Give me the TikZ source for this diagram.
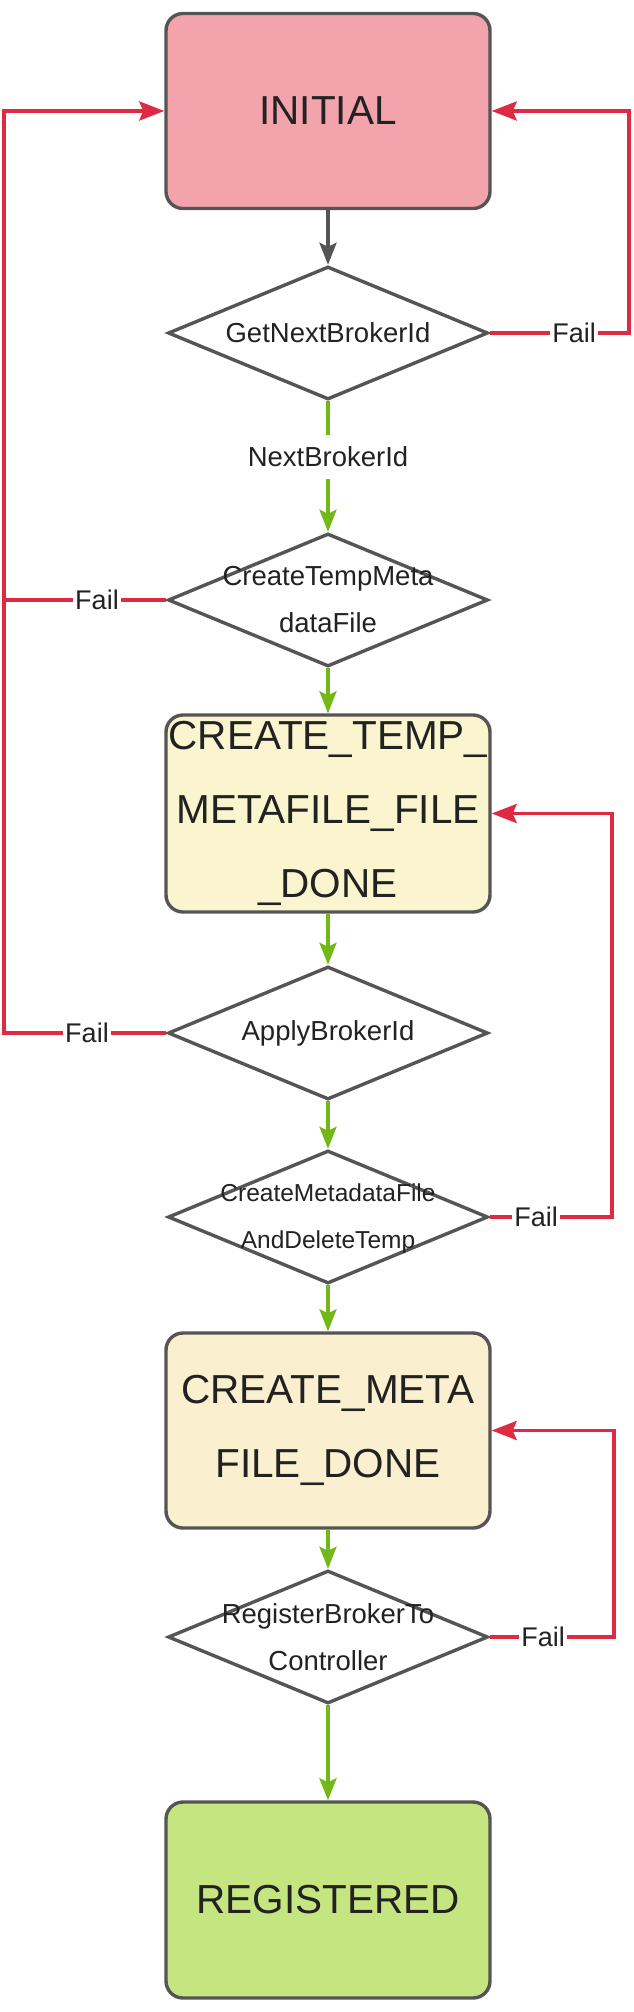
\documentclass[tikz,border=0pt]{standalone}
\usepackage{fontspec}
\setmainfont{Liberation Sans}
\usetikzlibrary{shapes.geometric,arrows.meta}
\definecolor{bordergray}{HTML}{555555}
\definecolor{txtc}{HTML}{222222}
\definecolor{failred}{HTML}{DE2A42}
\definecolor{okgreen}{HTML}{72B816}
\definecolor{pinkfill}{HTML}{F2A3AB}
\definecolor{yellowfill}{HTML}{FBF5CF}
\definecolor{creamfill}{HTML}{FAEFCF}
\definecolor{greenfill}{HTML}{C4E57F}
\begin{document}
\begin{tikzpicture}[x=1pt,y=-1pt,
  statebox/.style={draw=bordergray, line width=3.4pt, rounded corners=17pt,
    minimum width=324pt, minimum height=195pt, inner sep=0pt},
  decision/.style={draw=bordergray, line width=3.4pt, diamond, fill=white,
    minimum width=320pt, minimum height=133pt, inner sep=0pt},
  bigtext/.style={font=\fontsize{40.5}{74}\selectfont, align=center, text=txtc, inner sep=0pt},
  midtext/.style={font=\fontsize{27.5}{47}\selectfont, align=center, text=txtc, inner sep=0pt},
  smalltext/.style={font=\fontsize{24.5}{47}\selectfont, align=center, text=txtc, inner sep=0pt},
  grayflow/.style={line width=3.4pt, draw=bordergray, -{Stealth[length=22pt,width=17pt,inset=4pt]}},
  greenflow/.style={line width=3.4pt, draw=okgreen, -{Stealth[length=22pt,width=17pt,inset=4pt]}},
  failflow/.style={line width=3.6pt, draw=failred, -{Stealth[length=25pt,width=19pt,inset=4pt]}},
  failline/.style={line width=3.6pt, draw=failred},
  faillabel/.style={font=\fontsize{27}{30}\selectfont, fill=white, inner sep=2pt, text=txtc},
  flowlabel/.style={font=\fontsize{27.5}{30}\selectfont, fill=white, inner xsep=2pt, inner ysep=12pt, text=txtc}
]
\useasboundingbox (0,0) rectangle (634,2012);

% state boxes
\node[statebox, fill=pinkfill] (init) at (328,111) {};
\node[statebox, fill=yellowfill, minimum height=197pt] (b2) at (328,813.5) {};
\node[statebox, fill=creamfill] (b3) at (328,1430.5) {};
\node[statebox, fill=greenfill, minimum height=196pt] (b4) at (328,1900) {};

% decisions
\node[decision] (d1) at (328,333) {};
\node[decision] (d2) at (328,600) {};
\node[decision] (d3) at (328,1033) {};
\node[decision] (d4) at (328,1217) {};
\node[decision] (d5) at (328,1637) {};

% helper coordinates for loop-back lines
\coordinate (L) at (4,0);
\coordinate (R1) at (629,0);
\coordinate (R2) at (612,0);
\coordinate (R3) at (614,0);

% main flow
\draw[grayflow] (init) -- (d1);
\draw[greenflow] (d1) -- (d2);
\draw[greenflow] (d2) -- (b2);
\draw[greenflow] (b2) -- (d3);
\draw[greenflow] (d3) -- (d4);
\draw[greenflow] (d4) -- (b3);
\draw[greenflow] (b3) -- (d5);
\draw[greenflow] (d5) -- (b4);

% fail paths
\draw[failflow] (d1.east) -- (d1.east -| R1) |- (init.east);
\draw[failline] (d2.west) -- (d2.west -| L);
\draw[failflow] (d3.west) -- (d3.west -| L) |- (init.west);
\draw[failflow] (d4.east) -- (d4.east -| R2) |- (b2.east);
\draw[failflow] (d5.east) -- (d5.east -| R3) |- (b3.east);

% texts
\node[bigtext] (tinit) at (init.center) {INITIAL};
\node[bigtext] (tb2) at (b2.center) {CREATE\_TEMP\_\\METAFILE\_FILE\\\_DONE};
\node[bigtext] (tb3) at (b3.center) {CREATE\_META\\FILE\_DONE};
\node[bigtext] (tb4) at (b4.center) {REGISTERED};

\node[midtext] (td1) at (d1.center) {GetNextBrokerId};
\node[midtext] (td2) at (d2.center) {CreateTempMeta\\dataFile};
\node[midtext] (td3) at (d3.center) {ApplyBrokerId};
\node[smalltext] (td4) at (328,1219) {CreateMetadataFile\\AndDeleteTemp};
\node[midtext] (td5) at (d5.center) {RegisterBrokerTo\\Controller};

% labels
\node[flowlabel] (lnext) at (328,457) {NextBrokerId};
\node[faillabel] (f1) at (574,333) {Fail};
\node[faillabel] (f2) at (97,600) {Fail};
\node[faillabel] (f3) at (87,1033) {Fail};
\node[faillabel] (f4) at (536,1217) {Fail};
\node[faillabel] (f5) at (543,1637) {Fail};
\end{tikzpicture}
\end{document}
